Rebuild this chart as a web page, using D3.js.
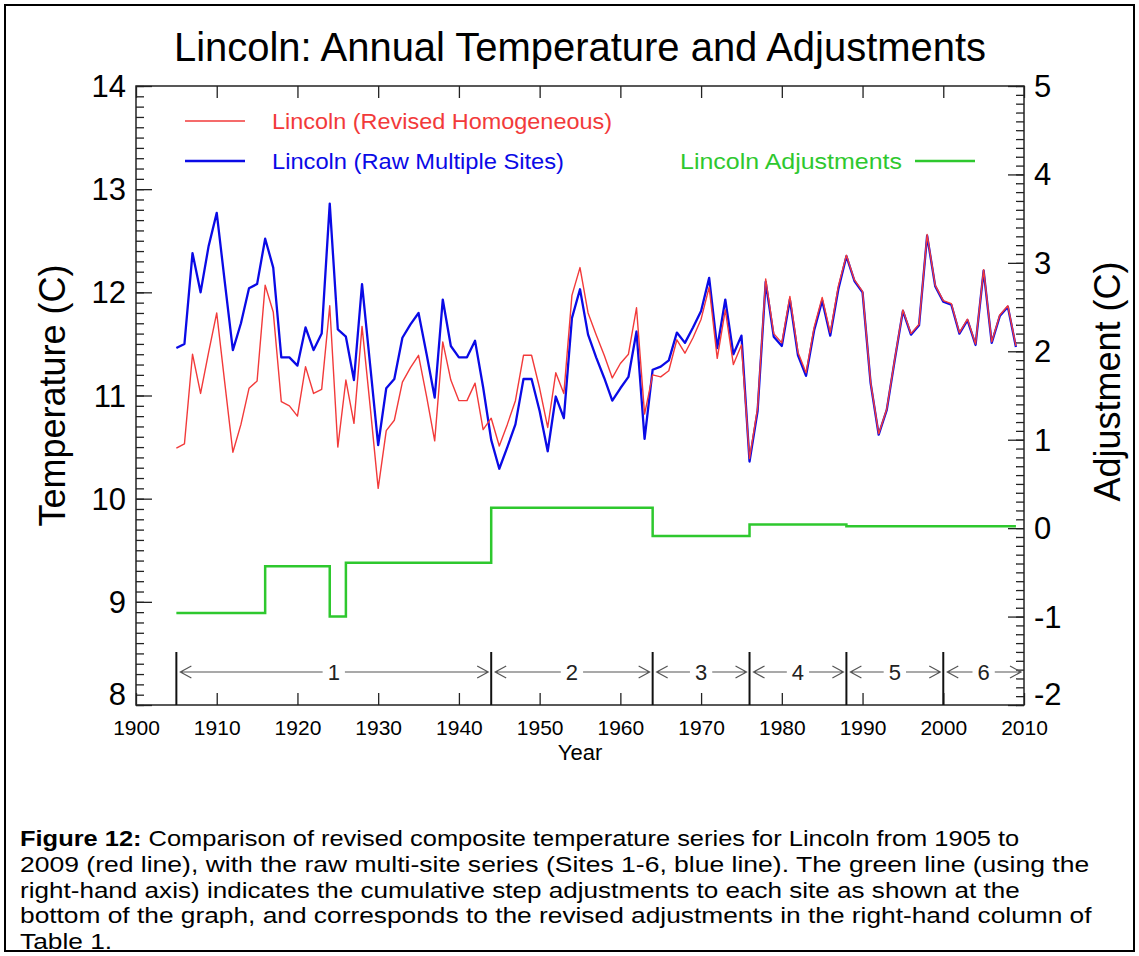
<!DOCTYPE html>
<html>
<head>
<meta charset="utf-8">
<script src="https://cdn.jsdelivr.net/npm/d3@7"></script>
<style>
  body { margin: 0; background: #fff; }
  svg { display: block; font-family: "Liberation Sans", Arial, Helvetica, sans-serif; }
</style>
</head>
<body>
<svg id="chart" width="1139" height="956"></svg>
<script>
// ---- Data -------------------------------------------------------------
const firstYear = 1905;
const lastYear = 2009;

// Raw multi-site annual means (°C), 1905–2009
const rawTemps = [
  11.46, 11.50, 12.38, 12.00, 12.45,                               // 1905-1909
  12.77, 12.10, 11.44, 11.70, 12.04, 12.08, 12.52, 12.24, 11.37, 11.37, // 1910s
  11.29, 11.66, 11.44, 11.60, 12.86, 11.64, 11.57, 11.15, 12.08, 11.30, // 1920s
  10.52, 11.07, 11.16, 11.56, 11.69, 11.80, 11.40, 10.98, 11.93, 11.48, // 1930s
  11.37, 11.37, 11.53, 11.08, 10.57, 10.29, 10.50, 10.72, 11.16, 11.16, // 1940s
  10.85, 10.46, 10.99, 10.78, 11.75, 12.03, 11.59, 11.37, 11.17, 10.95, // 1950s
  11.07, 11.18, 11.62, 10.58, 11.25, 11.28, 11.34, 11.61, 11.51, 11.66, // 1960s
  11.82, 12.14, 11.46, 11.93, 11.40, 11.58, 10.36, 10.85, 12.10, 11.57, // 1970s
  11.48, 11.93, 11.39, 11.19, 11.63, 11.92, 11.58, 12.03, 12.35, 12.11, // 1980s
  12.00, 11.12, 10.62, 10.86, 11.35, 11.82, 11.59, 11.68, 12.55, 12.06, // 1990s
  11.91, 11.88, 11.60, 11.73, 11.49, 12.21, 11.51, 11.77, 11.86, 11.47  // 2000s
];

// Revised homogeneous annual means (°C), 1905–2009
const revisedTemps = [
  10.49, 10.53, 11.40, 11.02, 11.42,                               // 1905-1909
  11.80, 11.12, 10.45, 10.72, 11.07, 11.14, 12.07, 11.81, 10.94, 10.90, // 1910s
  10.80, 11.28, 11.02, 11.06, 11.87, 10.50, 11.15, 10.73, 11.67, 10.90, // 1920s
  10.10, 10.66, 10.76, 11.13, 11.27, 11.39, 10.99, 10.56, 11.52, 11.15, // 1930s
  10.95, 10.95, 11.12, 10.67, 10.78, 10.51, 10.72, 10.95, 11.39, 11.39, // 1940s
  11.07, 10.69, 11.22, 11.02, 11.97, 12.24, 11.80, 11.59, 11.39, 11.17, // 1950s
  11.31, 11.40, 11.85, 10.82, 11.20, 11.18, 11.24, 11.54, 11.41, 11.56, // 1960s
  11.74, 12.05, 11.36, 11.83, 11.30, 11.49, 10.39, 10.88, 12.13, 11.60, // 1970s
  11.51, 11.96, 11.42, 11.22, 11.66, 11.95, 11.61, 12.06, 12.36, 12.12, // 1980s
  12.01, 11.13, 10.63, 10.87, 11.36, 11.83, 11.60, 11.69, 12.56, 12.07, // 1990s
  11.92, 11.89, 11.61, 11.74, 11.50, 12.22, 11.52, 11.78, 11.87, 11.48  // 2000s
];

// Cumulative step adjustments (°C): each value holds from its start year
const adjStartYears = [1905, 1916, 1924, 1926, 1944, 1964, 1976, 1988];
const adjValues     = [-0.96, -0.43, -1.00, -0.39, 0.23, -0.09, 0.04, 0.02];
const adjEndYear = 2009;

// Site periods shown along the bottom of the plot
const siteStarts = [1905, 1944, 1964, 1976, 1988, 2000];
const siteEnd = 2010;
const siteLabels = ["1", "2", "3", "4", "5", "6"];

// Axis ticks
const yearTicks = [1900, 1910, 1920, 1930, 1940, 1950, 1960, 1970, 1980, 1990, 2000, 2010];
const tempTicks = [8, 9, 10, 11, 12, 13, 14];
const adjTicks = [-2, -1, 0, 1, 2, 3, 4, 5];

// ---- Layout -----------------------------------------------------------
const plot = { left: 136, right: 1024, top: 86, bottom: 705 };
const tickFont = 31;
const colors = { red: "#f23a3a", blue: "#0a0ae6", green: "#2ec82e", frame: "#222" };

const svg = d3.select("#chart");

// Outer figure border
svg.append("rect")
  .attr("x", 5).attr("y", 5).attr("width", 1129).attr("height", 946)
  .attr("fill", "#fff").attr("stroke", "#000").attr("stroke-width", 2);

const x = d3.scaleLinear().domain([1900, 2010]).range([plot.left, plot.right]);
const yT = d3.scaleLinear().domain([8, 14]).range([plot.bottom, plot.top]);
const yA = d3.scaleLinear().domain([-2, 5]).range([plot.bottom, plot.top]);

const years = d3.range(firstYear, lastYear + 1);

// ---- Axes -------------------------------------------------------------
function styleAxis(g) {
  g.select(".domain").remove();
  g.selectAll(".tick line").attr("stroke", colors.frame).attr("stroke-width", 1.3);
  g.selectAll(".tick text").attr("fill", "#000");
}
const plain = d => String(d);

// bottom axis with year labels
const gx = svg.append("g").attr("transform", `translate(0,${plot.bottom})`)
  .call(d3.axisBottom(x).tickValues(yearTicks).tickFormat(plain)
    .tickSizeInner(-12).tickSizeOuter(0).tickPadding(15))
  .call(styleAxis);
gx.selectAll(".tick text").attr("font-size", 21);

// top axis, ticks only
svg.append("g").attr("transform", `translate(0,${plot.top})`)
  .call(d3.axisTop(x).tickValues(yearTicks).tickFormat("")
    .tickSizeInner(-12).tickSizeOuter(0))
  .call(styleAxis);

// left temperature axis: minor then major
svg.append("g").attr("transform", `translate(${plot.left},0)`)
  .call(d3.axisLeft(yT).ticks(60).tickFormat("").tickSizeInner(-8).tickSizeOuter(0))
  .call(styleAxis);
const gyl = svg.append("g").attr("transform", `translate(${plot.left},0)`)
  .call(d3.axisLeft(yT).tickValues(tempTicks).tickFormat(plain)
    .tickSizeInner(-16).tickSizeOuter(0).tickPadding(10))
  .call(styleAxis);
gyl.selectAll(".tick text").attr("font-size", tickFont)
  .attr("dy", d => d === 8 ? "-0.02em" : "0.34em");

// right adjustment axis: minor then major
svg.append("g").attr("transform", `translate(${plot.right},0)`)
  .call(d3.axisRight(yA).ticks(70).tickFormat("").tickSizeInner(-8).tickSizeOuter(0))
  .call(styleAxis);
const gyr = svg.append("g").attr("transform", `translate(${plot.right},0)`)
  .call(d3.axisRight(yA).tickValues(adjTicks).tickFormat(plain)
    .tickSizeInner(-16).tickSizeOuter(0).tickPadding(10))
  .call(styleAxis);
gyr.selectAll(".tick text").attr("font-size", tickFont)
  .attr("dy", d => d === -2 ? "-0.02em" : "0.34em");

// plot frame
svg.append("rect")
  .attr("x", plot.left).attr("y", plot.top)
  .attr("width", plot.right - plot.left).attr("height", plot.bottom - plot.top)
  .attr("fill", "none").attr("stroke", colors.frame).attr("stroke-width", 1.5);

// ---- Titles -----------------------------------------------------------
svg.append("text")
  .attr("x", 580).attr("y", 61).attr("text-anchor", "middle")
  .attr("font-size", 41).attr("textLength", 812).attr("lengthAdjust", "spacingAndGlyphs")
  .text("Lincoln: Annual Temperature and Adjustments");

svg.append("text")
  .attr("transform", `translate(65,${(plot.top + plot.bottom) / 2}) rotate(-90)`)
  .attr("text-anchor", "middle").attr("font-size", 36)
  .text("Temperature (C)");

svg.append("text")
  .attr("transform", `translate(1120,${(plot.top + plot.bottom) / 2 - 14}) rotate(-90)`)
  .attr("text-anchor", "middle").attr("font-size", 36)
  .text("Adjustment (C)");

svg.append("text")
  .attr("x", (plot.left + plot.right) / 2).attr("y", 760).attr("text-anchor", "middle")
  .attr("font-size", 22).text("Year");

// ---- Site periods -----------------------------------------------------
const siteY = 672;
const siteG = svg.append("g");
siteStarts.forEach(s => {
  siteG.append("line")
    .attr("x1", x(s)).attr("x2", x(s))
    .attr("y1", 652).attr("y2", plot.bottom)
    .attr("stroke", "#111").attr("stroke-width", 2);
});
siteStarts.forEach((s, i) => {
  const e = i + 1 < siteStarts.length ? siteStarts[i + 1] : siteEnd;
  const x0 = x(s) + 4, x1 = x(e) - 3, xm = (x(s) + x(e)) / 2;
  const t = siteG.append("text")
    .attr("x", xm).attr("y", siteY).attr("dy", "0.35em")
    .attr("text-anchor", "middle").attr("font-size", 22).attr("fill", "#222")
    .text(siteLabels[i]);
  const w = t.node().getComputedTextLength();
  siteG.append("path")
    .attr("d",
      `M${x0},${siteY}H${xm - w / 2 - 5}` +
      `M${xm + w / 2 + 5},${siteY}H${x1}` +
      `M${x0 + 11},${siteY - 6}L${x0},${siteY}L${x0 + 11},${siteY + 6}` +
      `M${x1 - 11},${siteY - 6}L${x1},${siteY}L${x1 - 11},${siteY + 6}`)
    .attr("stroke", "#555").attr("stroke-width", 1.2).attr("fill", "none");
});

// ---- Series -----------------------------------------------------------
const tempLine = d3.line().x((d, i) => x(years[i])).y(d => yT(d));

svg.append("path").datum(rawTemps)
  .attr("d", tempLine).attr("fill", "none")
  .attr("stroke", colors.blue).attr("stroke-width", 2.3).attr("stroke-linejoin", "round");

svg.append("path").datum(revisedTemps)
  .attr("d", tempLine).attr("fill", "none")
  .attr("stroke", colors.red).attr("stroke-width", 1.4).attr("stroke-linejoin", "round");

// adjustment step line
const adjPoints = adjStartYears.map((yr, i) => [yr, adjValues[i]]);
adjPoints.push([adjEndYear, adjValues[adjValues.length - 1]]);
svg.append("path").datum(adjPoints)
  .attr("d", d3.line().curve(d3.curveStepAfter).x(d => x(d[0])).y(d => yA(d[1])))
  .attr("fill", "none").attr("stroke", colors.green).attr("stroke-width", 2.5);

// ---- Legend -----------------------------------------------------------
const legend = [
  { label: "Lincoln (Revised Homogeneous)", color: colors.red, w: 1.4, lx: 185, ly: 121, tx: 272, tw: 340 },
  { label: "Lincoln (Raw Multiple Sites)", color: colors.blue, w: 2.3, lx: 185, ly: 161, tx: 272, tw: 292 },
  { label: "Lincoln Adjustments", color: colors.green, w: 2.5, lx: 915, ly: 161, tx: 680, tw: 222 }
];
legend.forEach(d => {
  svg.append("line").attr("x1", d.lx).attr("x2", d.lx + 60)
    .attr("y1", d.ly).attr("y2", d.ly)
    .attr("stroke", d.color).attr("stroke-width", d.w);
  svg.append("text").attr("x", d.tx).attr("y", d.ly).attr("dy", "0.35em")
    .attr("font-size", 22).attr("fill", d.color)
    .attr("textLength", d.tw).attr("lengthAdjust", "spacingAndGlyphs")
    .text(d.label);
});

// ---- Caption ----------------------------------------------------------
const captionLines = [
  [["Figure 12:", true], [" Comparison of revised composite temperature series for Lincoln from 1905 to", false]],
  [["2009 (red line), with the raw multi-site series (Sites 1-6, blue line). The green line (using the", false]],
  [["right-hand axis) indicates the cumulative step adjustments to each site as shown at the", false]],
  [["bottom of the graph, and corresponds to the revised adjustments in the right-hand column of", false]],
  [["Table 1.", false]]
];
const captionWidths = [1000, 1070, 1000, 1072, null];
const capX = 20, capY0 = 846, capStep = 25.8, capStretch = 1.17;
captionLines.forEach((parts, i) => {
  const t = svg.append("text").attr("font-size", 22.5).attr("fill", "#000")
    .attr("x", 0).attr("y", 0);
  parts.forEach(([str, bold]) => {
    t.append("tspan").text(str).attr("font-weight", bold ? "bold" : "normal");
  });
  const natural = t.node().getComputedTextLength();
  const sx = captionWidths[i] ? captionWidths[i] / natural : capStretch;
  t.attr("transform", `translate(${capX},${capY0 + i * capStep}) scale(${sx},1)`);
});
</script>
</body>
</html>
